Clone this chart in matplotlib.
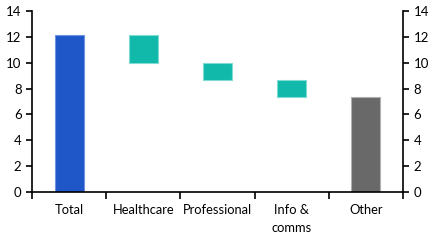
import matplotlib.pyplot as plt
import numpy as np

plt.rcParams['font.family'] = ['Lato', 'DejaVu Sans']

categories = ["Total", "Healthcare", "Professional", "Info &\ncomms", "Other"]
tops = [12.15, 12.15, 10.0, 8.64, 7.37]
bottoms = [0, 10.0, 8.64, 7.37, 0]
colors = ["#1f57c9", "#10b9a9", "#10b9a9", "#10b9a9", "#696969"]
edges = ["#6f93e0", "#7fdcd2", "#7fdcd2", "#7fdcd2", "#b0b0b0"]

fig = plt.figure(figsize=(4.38, 2.48), dpi=100)
ax = fig.add_axes([0.073, 0.226, 0.847, 0.730])

x = np.arange(len(categories))
heights = np.array(tops) - np.array(bottoms)
ax.bar(x, heights, bottom=bottoms, width=0.39, color=colors,
       edgecolor=edges, linewidth=0.8)

ax.set_xlim(-0.5, len(categories) - 0.5)
ax.set_ylim(0, 14)
ax.set_yticks(range(0, 15, 2))

# boundaries get the tick marks, centres get the labels
ax.set_xticks(np.arange(-0.5, len(categories)), labels=[])
ax.set_xticks(x, labels=categories, minor=True)
ax.tick_params(axis='x', which='major', direction='out', length=5, width=1.2)
ax.tick_params(axis='x', which='minor', length=0, labelsize=9.3, pad=9)
for lbl in ax.get_xticklabels(minor=True):
    lbl.set_linespacing(1.6)
ax.tick_params(axis='y', direction='out', length=4, width=1.2, labelsize=9.5,
               left=True, right=True, labelleft=True, labelright=True)

for s in ['top']:
    ax.spines[s].set_visible(False)
for s in ['left', 'right', 'bottom']:
    ax.spines[s].set_linewidth(1.2)

fig.savefig("out.png", dpi=100)
